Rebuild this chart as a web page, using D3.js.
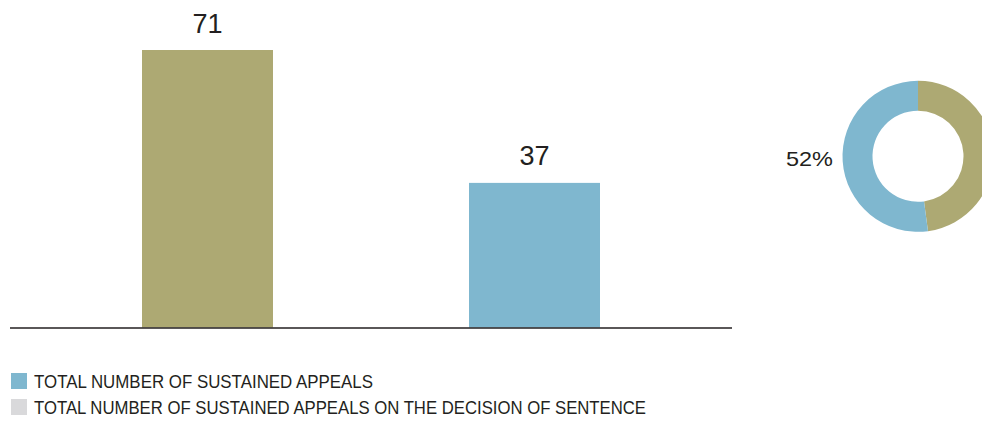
<!DOCTYPE html>
<html><head><meta charset="utf-8">
<script src="https://cdn.jsdelivr.net/npm/d3@7"></script>
<style>body{margin:0;background:#fff}svg{display:block}text{fill:#231f20}</style>
</head><body>
<svg id="c" width="982" height="421"></svg>
<script>
const categories = ["Total appeals", "Sustained appeals"];
const values = [71, 37];
const barColors = ["#ada973", "#7fb7cf"];
const donutValues = [34, 37];
const donutColors = ["#ada973", "#7fb7cf"];
const donutLabel = "52%";
const legendLabels = ["TOTAL NUMBER OF SUSTAINED APPEALS", "TOTAL NUMBER OF SUSTAINED APPEALS ON THE DECISION OF SENTENCE"];
const legendColors = ["#7fb7cf", "#d9d9db"];

const svg = d3.select("#c");
const font = "'Liberation Sans Narrow', 'Liberation Sans', sans-serif";

const x = d3.scaleBand().domain(categories).range([10, 732]).paddingInner(0.5994).paddingOuter(0.4037);
const y = d3.scaleLinear().domain([0, 71]).range([327.5, 50]);

svg.selectAll("rect.bar").data(values).join("rect").attr("class","bar")
  .attr("x",(d,i)=>x(categories[i])).attr("width",x.bandwidth())
  .attr("y",d=>y(d)).attr("height",d=>y(0)-y(d)).attr("fill",(d,i)=>barColors[i]);

svg.selectAll("text.val").data(values).join("text").attr("class","val")
  .attr("x",(d,i)=>x(categories[i])+x.bandwidth()/2).attr("y",d=>y(d)-17.5)
  .attr("text-anchor","middle").style("font-family",font).style("font-size","27px")
  .text(d=>d);

svg.append("line").attr("x1",10).attr("x2",732).attr("y1",y(0)+0.5).attr("y2",y(0)+0.5)
  .attr("stroke","#231f20").attr("stroke-width",1.5);

// donut
const pie = d3.pie().sort(null).value(d=>d);
const arc = d3.arc().innerRadius(45.5).outerRadius(75.5);
const g = svg.append("g").attr("transform","translate(918,156.3)");
g.selectAll("path").data(pie(donutValues)).join("path").attr("d",arc).attr("fill",(d,i)=>donutColors[i]);

svg.append("text").attr("x",833).attr("y",165.5).attr("text-anchor","end")
  .style("font-family","'Liberation Sans', sans-serif").style("font-size","21px")
  .attr("textLength",47).attr("lengthAdjust","spacingAndGlyphs").text(donutLabel);

// legend
const lg = svg.selectAll("g.leg").data(legendLabels).join("g").attr("class","leg")
  .attr("transform",(d,i)=>`translate(11,${373+i*26})`);
lg.append("rect").attr("width",16).attr("height",16).attr("fill",(d,i)=>legendColors[i]);
lg.append("text").attr("x",23).attr("y",15).style("font-family",font).style("font-size","18px")
  .attr("textLength",(d,i)=>i===0?339:612).attr("lengthAdjust","spacingAndGlyphs").text(d=>d);
</script>
</body></html>
